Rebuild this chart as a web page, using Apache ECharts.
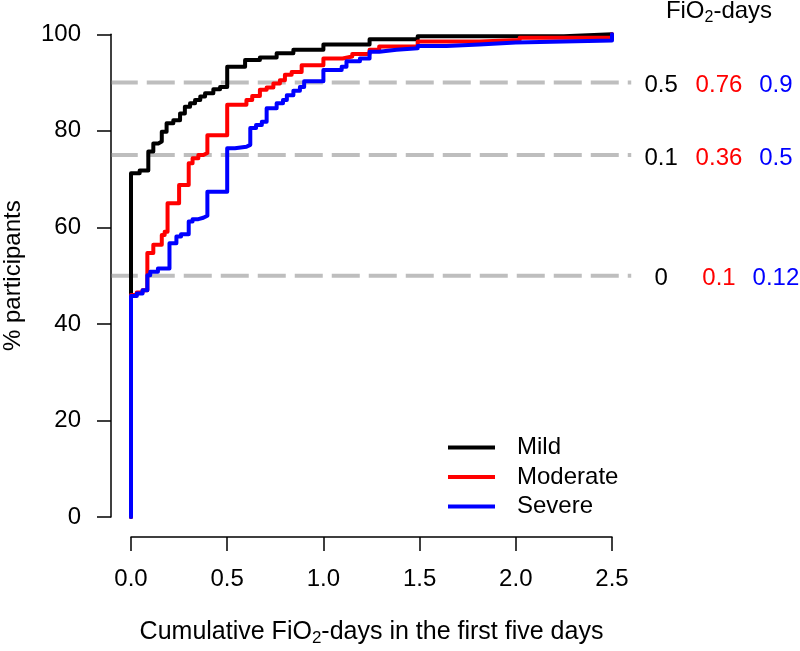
<!DOCTYPE html>
<html><head><meta charset="utf-8">
<script src="https://cdn.jsdelivr.net/npm/echarts@6/dist/echarts.min.js"></script>
<style>html,body{margin:0;padding:0;background:#fff}#c{width:800px;height:651px}</style>
</head><body><div id="c"></div>
<script>
// ---- data ----
const groups = ['Mild', 'Moderate', 'Severe'];
const mild = [[0,0],[0,71.2],[0.045,71.8],[0.09,75.7],[0.116,77.4],[0.142,77.8],[0.16,79.8],[0.185,81.6],[0.22,82.2],[0.255,83.6],[0.28,85.0],[0.307,85.7],[0.333,86.4],[0.36,87.1],[0.385,87.8],[0.428,88.6],[0.463,89.1],[0.5,93.3],[0.593,94.7],[0.67,95.2],[0.757,96.1],[0.844,96.8],[1.0,97.9],[1.24,99.0],[1.49,99.6],[2.25,100],[2.5,100]];
const moderate = [[0,0],[0,46.0],[0.03,46.5],[0.06,47.0],[0.085,54.7],[0.116,56.4],[0.16,58.4],[0.175,59.1],[0.19,65.0],[0.25,68.8],[0.30,73.3],[0.32,74.3],[0.35,75.0],[0.376,75.4],[0.397,79.1],[0.5,85.4],[0.6,86.4],[0.63,87.2],[0.67,88.5],[0.705,89.0],[0.74,89.8],[0.774,90.5],[0.80,91.6],[0.835,92.2],[0.887,93.6],[1.0,95.0],[1.1,95.4],[1.15,95.9],[1.24,96.8],[1.29,97.5],[1.49,98.5],[1.81,98.8],[2.02,99.3],[2.5,99.3],[2.5,100]];
const severe = [[0,0],[0,45.8],[0.03,46.3],[0.06,47.0],[0.085,50.1],[0.1,50.8],[0.14,51.5],[0.2,56.7],[0.236,58.1],[0.26,58.6],[0.3,61.2],[0.32,61.7],[0.35,62.0],[0.376,62.4],[0.397,67.4],[0.5,76.4],[0.54,76.7],[0.6,77.1],[0.62,80.6],[0.65,81.2],[0.68,81.9],[0.705,84.7],[0.757,85.7],[0.79,86.4],[0.81,87.4],[0.844,88.3],[0.878,89.1],[0.9,90.3],[1.0,92.6],[1.095,93.3],[1.12,94.4],[1.19,95.0],[1.24,96.4],[1.29,96.8],[1.38,97.1],[1.49,97.6],[1.64,97.9],[1.81,98.3],[2.0,98.7],[2.5,98.7],[2.5,100]];
const referenceLevels = [90, 75, 50];
const mildFiO2 = ['0.5', '0.1', '0'];
const moderateFiO2 = ['0.76', '0.36', '0.1'];
const severeFiO2 = ['0.9', '0.5', '0.12'];

// ---- chart ----
const FONT = 'Liberation Sans, Arial, Helvetica, sans-serif';
const colors = ['#000000', '#ff0000', '#0000ff'];
const curves = [mild, moderate, severe];
const fioTexts = [mildFiO2, moderateFiO2, severeFiO2];
const colX = [2.755, 3.056, 3.352];

const series = [];
referenceLevels.forEach(lv => {
  series.push({
    type: 'line', xAxisIndex: 0, yAxisIndex: 0, data: [[-0.1, lv], [2.6, lv]], clip: false,
    symbol: 'none', silent: true, z: 1,
    lineStyle: { color: '#bebebe', width: 4, type: [28, 9], dashOffset: 2 }
  });
});
groups.forEach((g, i) => {
  series.push({
    name: g, type: 'line', xAxisIndex: 0, yAxisIndex: 0, step: 'end', data: curves[i],
    symbol: 'none', clip: false, z: 3 + i,
    lineStyle: { color: colors[i], width: 4, join: 'round', cap: 'round' },
    itemStyle: { color: colors[i] }
  });
});
groups.forEach((g, i) => {
  series.push({
    type: 'scatter', xAxisIndex: 0, yAxisIndex: 0, silent: true, clip: false, symbolSize: 0,
    itemStyle: { color: colors[i], opacity: 1 },
    data: referenceLevels.map((lv, j) => [colX[i], lv, fioTexts[i][j]]),
    label: { show: true, position: [0, 3], align: 'center', verticalAlign: 'middle',
      formatter: p => p.value[2], fontSize: 24, color: colors[i], fontFamily: FONT,
      textBorderWidth: 0, opacity: 1 }
  });
});

const richTitle = {
  a: { fontSize: 25, lineHeight: 30, color: '#000', fontFamily: FONT },
  s: { fontSize: 17, lineHeight: 17, verticalAlign: 'bottom', color: '#000', fontFamily: FONT }
};
const richHead = {
  a: { fontSize: 24, lineHeight: 30, color: '#000', fontFamily: FONT },
  s: { fontSize: 16, lineHeight: 16, verticalAlign: 'bottom', color: '#000', fontFamily: FONT }
};

const hiddenAxis = { show: false };

const option = {
  animation: false,
  backgroundColor: '#ffffff',
  grid: [
    { left: 111.76, right: 168.76, top: 15.02, bottom: 114.72, containLabel: false, outerBoundsMode: 'none' },
    { left: 131, right: 188, top: 34.3, bottom: 134, containLabel: false, outerBoundsMode: 'none' }
  ],
  xAxis: [
    Object.assign({ type: 'value', gridIndex: 0, min: -0.1, max: 2.6 }, hiddenAxis),
    {
      type: 'value', gridIndex: 1, min: 0, max: 2.5, interval: 0.5, offset: 20,
      axisLine: { show: true, onZero: false, lineStyle: { color: '#000', width: 1.5 } },
      axisTick: { show: true, length: 14, lineStyle: { color: '#000', width: 1.5 } },
      axisLabel: { margin: 30, fontSize: 24, color: '#000', fontFamily: FONT, formatter: v => v.toFixed(1) },
      splitLine: { show: false },
      name: '{a|Cumulative FiO}{s|2}{a|-days in the first five days}',
      nameLocation: 'middle', nameGap: 80,
      nameTextStyle: { rich: richTitle }
    }
  ],
  yAxis: [
    Object.assign({ type: 'value', gridIndex: 0, min: -4, max: 104 }, hiddenAxis),
    {
      type: 'value', gridIndex: 1, min: 0, max: 100, interval: 20, offset: 20,
      axisLine: { show: true, onZero: false, lineStyle: { color: '#000', width: 1.5 } },
      axisTick: { show: true, length: 14, lineStyle: { color: '#000', width: 1.5 } },
      axisLabel: { margin: 30, fontSize: 24, color: '#000', fontFamily: FONT },
      splitLine: { show: false },
      name: '% participants', nameLocation: 'middle', nameGap: 86, nameRotate: 90,
      nameTextStyle: { fontSize: 24, color: '#000', fontFamily: FONT }
    }
  ],
  legend: {
    data: groups, orient: 'vertical', left: 443, top: 430, itemWidth: 47, itemHeight: 4,
    icon: 'rect', itemGap: 4.5, selectedMode: false,
    textStyle: { fontSize: 24, lineHeight: 25, color: '#000', fontFamily: FONT, padding: [0, 0, 0, 17] }
  },
  graphic: [{
    type: 'text', x: 719, y: 11, silent: true,
    style: { text: '{a|FiO}{s|2}{a|-days}', rich: richHead, align: 'center', verticalAlign: 'middle' }
  }],
  series: series
};

const chart = echarts.init(document.getElementById('c'), null, { renderer: 'canvas' });
chart.setOption(option);
</script>
</body></html>
